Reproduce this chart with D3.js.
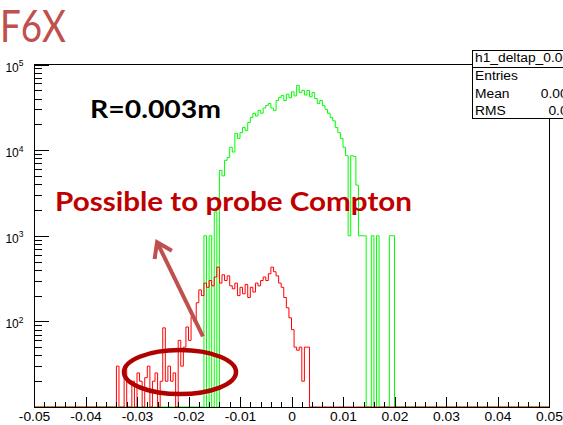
<!DOCTYPE html>
<html>
<head>
<meta charset="UTF-8">
<title>F6X deltap</title>
<script src="https://cdn.jsdelivr.net/npm/d3@7"></script>
<style>
  body { margin: 0; background: #fff; }
  svg { display: block; }
  .axis path { display: none; }
  .axis line { stroke: #000; shape-rendering: crispEdges; }
  .axis text, .stats text { font-family: "Liberation Sans", Arial, sans-serif; font-size: 12px; fill: #000; }
  .note { font-family: Lato, "Open Sans", sans-serif; font-weight: bold; }
</style>
</head>
<body>
<script>

// histogram bins, width 0.0005
var binWidth = 0.0005;

var greenStart = -0.017;
var greenCounts = [
  1000, 0, 1000, 0, 1900, 0,
  5800, 5000, 7600, 8200, 10800, 9500, 15700, 13700, 16000, 18400,
  17000, 21000, 24100, 26900, 25000, 29100, 27000, 31000, 33300, 35000,
  31000, 29100, 38000, 41300, 43500, 38000, 45000, 41000, 48000, 43000,
  57000, 47000, 50000, 44000, 49700, 42000, 47000, 40000, 35000, 38000,
  33000, 30000, 27000, 24000, 22000, 18400, 16000, 13700, 10800, 8600,
  1000, 8600, 8400, 3900, 1000, 1000, 1000, 0, 0, 1000,
  0, 1000, 0, 0, 0, 0, 1000, 1000
];

var redStart = -0.034;
var redCounts = [
  30, 0, 0, 30, 0, 0, 20, 0, 25, 20,
  0, 22, 30, 0, 20, 25, 0, 20, 84, 20,
  30, 20, 25, 0, 60, 30, 50, 86, 60, 113,
  100, 165, 233, 200, 280, 250, 300, 260, 330, 430,
  280, 350, 300, 340, 260, 240, 280, 200, 250, 210,
  270, 190, 250, 220, 280, 260, 300, 330, 300, 360,
  430, 380, 340, 280, 250, 190, 144, 110, 80, 50,
  46, 50, 20, 50, 50
];

var xTicks = [-0.05, -0.04, -0.03, -0.02, -0.01, 0, 0.01, 0.02, 0.03, 0.04, 0.05];
var xTickLabels = ["-0.05", "-0.04", "-0.03", "-0.02", "-0.01", "0", "0.01", "0.02", "0.03", "0.04", "0.05"];
var yTicks = [100, 1000, 10000, 100000];
var yTickExps = ["2", "3", "4", "5"];

var statsTitle = "h1_deltap_0.003";
var statsNames = ["Entries", "Mean", "RMS"];
var statsValues = ["1e+06", "0.0003154", "0.006523"];

var W = 563, H = 425;
var frame = {left: 34, right: 549, top: 64.5, bottom: 407};

var svg = d3.select('body').append('svg')
  .attr('width', W)
  .attr('height', H);

var x = d3.scaleLinear().domain([-0.05, 0.05]).range([frame.left, frame.right]);
var y = d3.scaleLog().domain([10, 1e5]).range([frame.bottom, frame.top]);

// stretch text horizontally (the slide picture is a bit wider than tall)
function stretch(sel, k) {
  sel.each(function() {
    var len = this.getComputedTextLength();
    d3.select(this).attr('textLength', len * k).attr('lengthAdjust', 'spacingAndGlyphs');
  });
}

// step outline like ROOT draws it, empty bins sit on the frame bottom
function histPoints(start, counts) {
  var pts = [[-0.05, 0], [start, 0]];
  counts.forEach(function(c, i) {
    pts.push([start + i * binWidth, c]);
    pts.push([start + (i + 1) * binWidth, c]);
  });
  pts.push([start + counts.length * binWidth, 0]);
  pts.push([0.05, 0]);
  return pts;
}

var line = d3.line()
  .x(function(d) { return x(d[0]); })
  .y(function(d) { return d[1] > 0 ? y(Math.max(d[1], 10)) : frame.bottom; });

svg.append('path')
  .attr('d', line(histPoints(greenStart, greenCounts)))
  .attr('fill', 'none')
  .attr('stroke', '#00ff00')
  .attr('stroke-width', 1);

svg.append('path')
  .attr('d', line(histPoints(redStart, redCounts)))
  .attr('fill', 'none')
  .attr('stroke', '#ff0000')
  .attr('stroke-width', 1);

// axes, ticks point into the frame
var xMinor = d3.range(0, 51).map(function(i) { return -0.05 + i * 0.002; });
svg.append('g').attr('class', 'axis')
  .attr('transform', 'translate(0,' + frame.bottom + ')')
  .call(d3.axisBottom(x).tickValues(xMinor).tickSize(-5).tickFormat(''));

var xAxis = svg.append('g').attr('class', 'axis')
  .attr('transform', 'translate(0,' + frame.bottom + ')')
  .call(d3.axisBottom(x).tickValues(xTicks).tickSize(-10).tickPadding(5)
    .tickFormat(function(d, i) { return xTickLabels[i]; }));
stretch(xAxis.selectAll('text'), 1.15);

var yMinor = [];
[10, 100, 1000, 10000].forEach(function(dec) {
  for (var m = 2; m <= 9; m++) yMinor.push(dec * m);
});
svg.append('g').attr('class', 'axis')
  .attr('transform', 'translate(' + frame.left + ',0)')
  .call(d3.axisLeft(y).tickValues(yMinor).tickSize(-7.5).tickFormat(''));
svg.append('g').attr('class', 'axis')
  .attr('transform', 'translate(' + frame.left + ',0)')
  .call(d3.axisLeft(y).tickValues(yTicks).tickSize(-15).tickFormat(''));

var yLab = svg.append('g').attr('class', 'axis').selectAll('text')
  .data(yTicks)
  .enter()
  .append('text')
  .attr('x', 23.5)
  .attr('y', function(d) { return y(d) + 7; })
  .attr('text-anchor', 'end')
  .text('10');
yLab.append('tspan')
  .attr('dy', -5.5)
  .style('font-size', '8.5px')
  .text(function(d, i) { return yTickExps[i]; });

// frame
svg.append('rect')
  .attr('x', frame.left)
  .attr('y', frame.top)
  .attr('width', frame.right - frame.left)
  .attr('height', frame.bottom - frame.top)
  .attr('fill', 'none')
  .attr('stroke', '#000')
  .attr('shape-rendering', 'crispEdges');

// stats box (runs off the right edge)
var stats = svg.append('g').attr('class', 'stats');
stats.append('rect')
  .attr('x', 472.5).attr('y', 50.5)
  .attr('width', 140).attr('height', 68)
  .attr('fill', '#fff').attr('stroke', '#000')
  .attr('shape-rendering', 'crispEdges');
stats.append('line')
  .attr('x1', 472.5).attr('x2', 612.5)
  .attr('y1', 67.5).attr('y2', 67.5)
  .attr('stroke', '#000')
  .attr('shape-rendering', 'crispEdges');
stretch(stats.append('text').attr('x', 475).attr('y', 62).text(statsTitle), 1.15);
statsNames.forEach(function(n, i) {
  stretch(stats.append('text').attr('x', 475).attr('y', 80 + i * 17.5).text(n), 1.15);
  stretch(stats.append('text').attr('x', 606).attr('y', 80 + i * 17.5)
    .attr('text-anchor', 'end').text(statsValues[i]), 1.15);
});

// slide overlay
svg.append('text')
  .attr('x', 0).attr('y', 41.5)
  .attr('textLength', 66).attr('lengthAdjust', 'spacingAndGlyphs')
  .style('font-family', 'Lato, "Open Sans", sans-serif')
  .style('font-size', '44px')
  .attr('fill', '#c0504d')
  .text('F6X');

svg.append('text')
  .attr('class', 'note')
  .attr('x', 90).attr('y', 118)
  .attr('textLength', 131).attr('lengthAdjust', 'spacingAndGlyphs')
  .style('font-size', '25px')
  .attr('fill', '#000')
  .text('R=0.003m');

svg.append('text')
  .attr('class', 'note')
  .attr('x', 55).attr('y', 211)
  .attr('textLength', 357).attr('lengthAdjust', 'spacingAndGlyphs')
  .style('font-size', '26.5px')
  .attr('fill', '#c00000')
  .text('Possible to probe Compton');

// arrow towards the text
var tail = [x(-0.0172), y(67)], tip = [x(-0.0261), y(840)];
var ang = Math.atan2(tip[1] - tail[1], tip[0] - tail[0]);
var headLen = 17, spread = 0.6;
svg.append('line')
  .attr('x1', tail[0]).attr('y1', tail[1])
  .attr('x2', tip[0] - 2 * Math.cos(ang)).attr('y2', tip[1] - 2 * Math.sin(ang))
  .attr('stroke', '#c0504d').attr('stroke-width', 4);
svg.append('path')
  .attr('d', d3.line()([
    [tip[0] - headLen * Math.cos(ang - spread), tip[1] - headLen * Math.sin(ang - spread)],
    tip,
    [tip[0] - headLen * Math.cos(ang + spread), tip[1] - headLen * Math.sin(ang + spread)]
  ]))
  .attr('fill', 'none')
  .attr('stroke', '#c0504d').attr('stroke-width', 4)
  .attr('stroke-linejoin', 'miter');

// ellipse round the low tail
var cx = x(-0.02165), cy = y(25.6);
svg.append('ellipse')
  .attr('cx', cx).attr('cy', cy)
  .attr('rx', 56).attr('ry', 22)
  .attr('fill', 'none')
  .attr('stroke', '#b00000')
  .attr('stroke-width', 4.5);

</script>
</body>
</html>
